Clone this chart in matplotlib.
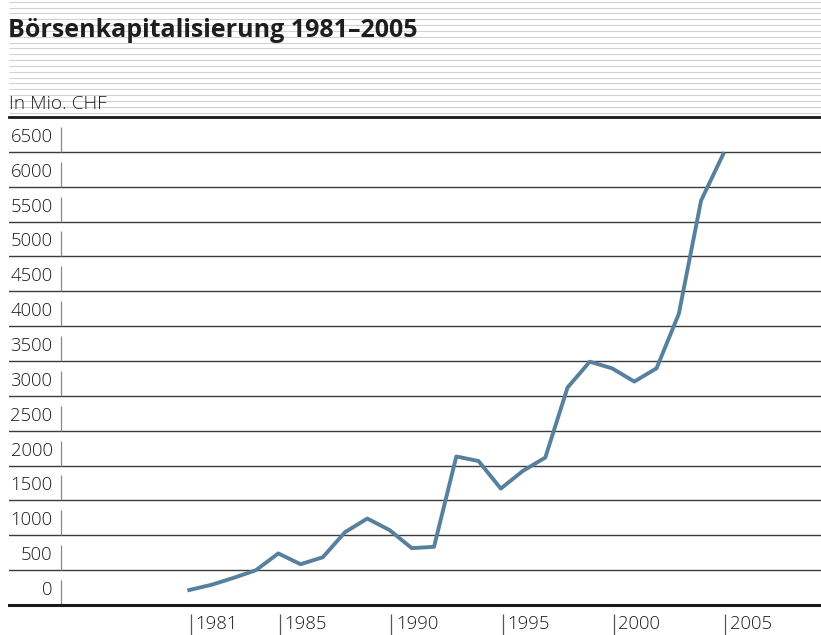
import matplotlib
matplotlib.use("Agg")
import matplotlib.pyplot as plt
from matplotlib.transforms import blended_transform_factory, offset_copy

# ---- data ----
years = list(range(1981, 2006))
values = [215, 290, 390, 500, 740, 585, 685, 1045, 1240, 1075, 815, 835,
          2130, 2065, 1670, 1925, 2115, 3120, 3490, 3395, 3205, 3395,
          4175, 5800, 6470]
y_ticks = [0, 500, 1000, 1500, 2000, 2500, 3000, 3500, 4000, 4500, 5000,
           5500, 6000, 6500]
x_ticks = [1981, 1985, 1990, 1995, 2000, 2005]
title = "Börsenkapitalisierung 1981–2005"
unit_label = "In Mio. CHF"

plt.rcParams['font.family'] = ['Open Sans', 'DejaVu Sans']

W, H = 821, 635
fig = plt.figure(figsize=(W / 100, H / 100), dpi=100)

# background decoration (stripes in header)
bg = fig.add_axes([0, 0, 1, 1])
bg.set_xlim(0, W)
bg.set_ylim(H, 0)
bg.axis('off')
for k in range(20):
    yy = 1.7 + 5.84 * k
    bg.plot([9, W], [yy, yy], color='#d2d2d2', lw=0.8, solid_capstyle='butt')

fig.text(8 / W, 1 - 36.7 / H, title, fontsize=18.0, fontweight='bold',
         color='#1e1e1e', va='baseline', ha='left')
fig.text(9 / W, 1 - 109 / H, unit_label, fontsize=13.8, fontweight='light',
         color='#222222', va='baseline', ha='left')

# main axes
left_px, right_px, top_px, bottom_px = 9, 821, 117, 605
ax = fig.add_axes([left_px / W, (H - bottom_px) / H,
                   (right_px - left_px) / W, (bottom_px - top_px) / H])
ax.patch.set_alpha(0)
px_per_year = 22.25
x0_px = 189.3
ax.set_xlim(1981 - (x0_px - left_px) / px_per_year,
            1981 + (right_px - x0_px) / px_per_year)
ax.set_ylim(0, 7000)
ax.set_xticks([])
ax.set_yticks([])
for s in ['left', 'right']:
    ax.spines[s].set_visible(False)
ax.spines['bottom'].set_linewidth(2.2)
ax.spines['bottom'].set_color('#1a1a1a')
ax.spines['top'].set_linewidth(2.0)
ax.spines['top'].set_color('#1a1a1a')

for v in y_ticks[1:]:
    ax.axhline(v, color='#3c3c3c', lw=1.0, zorder=1)

trans_y = blended_transform_factory(ax.transAxes, ax.transData)
lab_x = (52.5 - left_px) / (right_px - left_px)
bar_x = (61 - left_px) / (right_px - left_px)
bar_h = 25 / ((bottom_px - top_px) / 7000)
for v in y_ticks:
    ax.text(lab_x, v, f"{v}", transform=offset_copy(trans_y, fig=fig, y=10, units='dots'),
            ha='right', va='baseline', fontsize=13.3, fontweight='light', color='#1a1a1a')
    ax.plot([bar_x, bar_x], [v, v + bar_h], transform=trans_y, color='#8a8a8a',
            lw=0.9, zorder=1, solid_capstyle='butt')

trans_x = blended_transform_factory(ax.transData, ax.transAxes)
ah = bottom_px - top_px
for yr in x_ticks:
    ax.plot([yr, yr], [-9 / ah, -30 / ah],
            transform=offset_copy(trans_x, fig=fig, x=1.8, units='dots'),
            color='#555555', lw=0.9, clip_on=False, solid_capstyle='butt')
    ax.text(yr, -24 / ah, str(yr),
            transform=offset_copy(trans_x, fig=fig, x=6.3, units='dots'),
            ha='left', va='baseline', fontsize=13.3, fontweight='light',
            color='#1a1a1a', clip_on=False)

ax.plot(years, values, color='#57809f', lw=2.8, zorder=3)

fig.savefig('out.png', dpi=100)
